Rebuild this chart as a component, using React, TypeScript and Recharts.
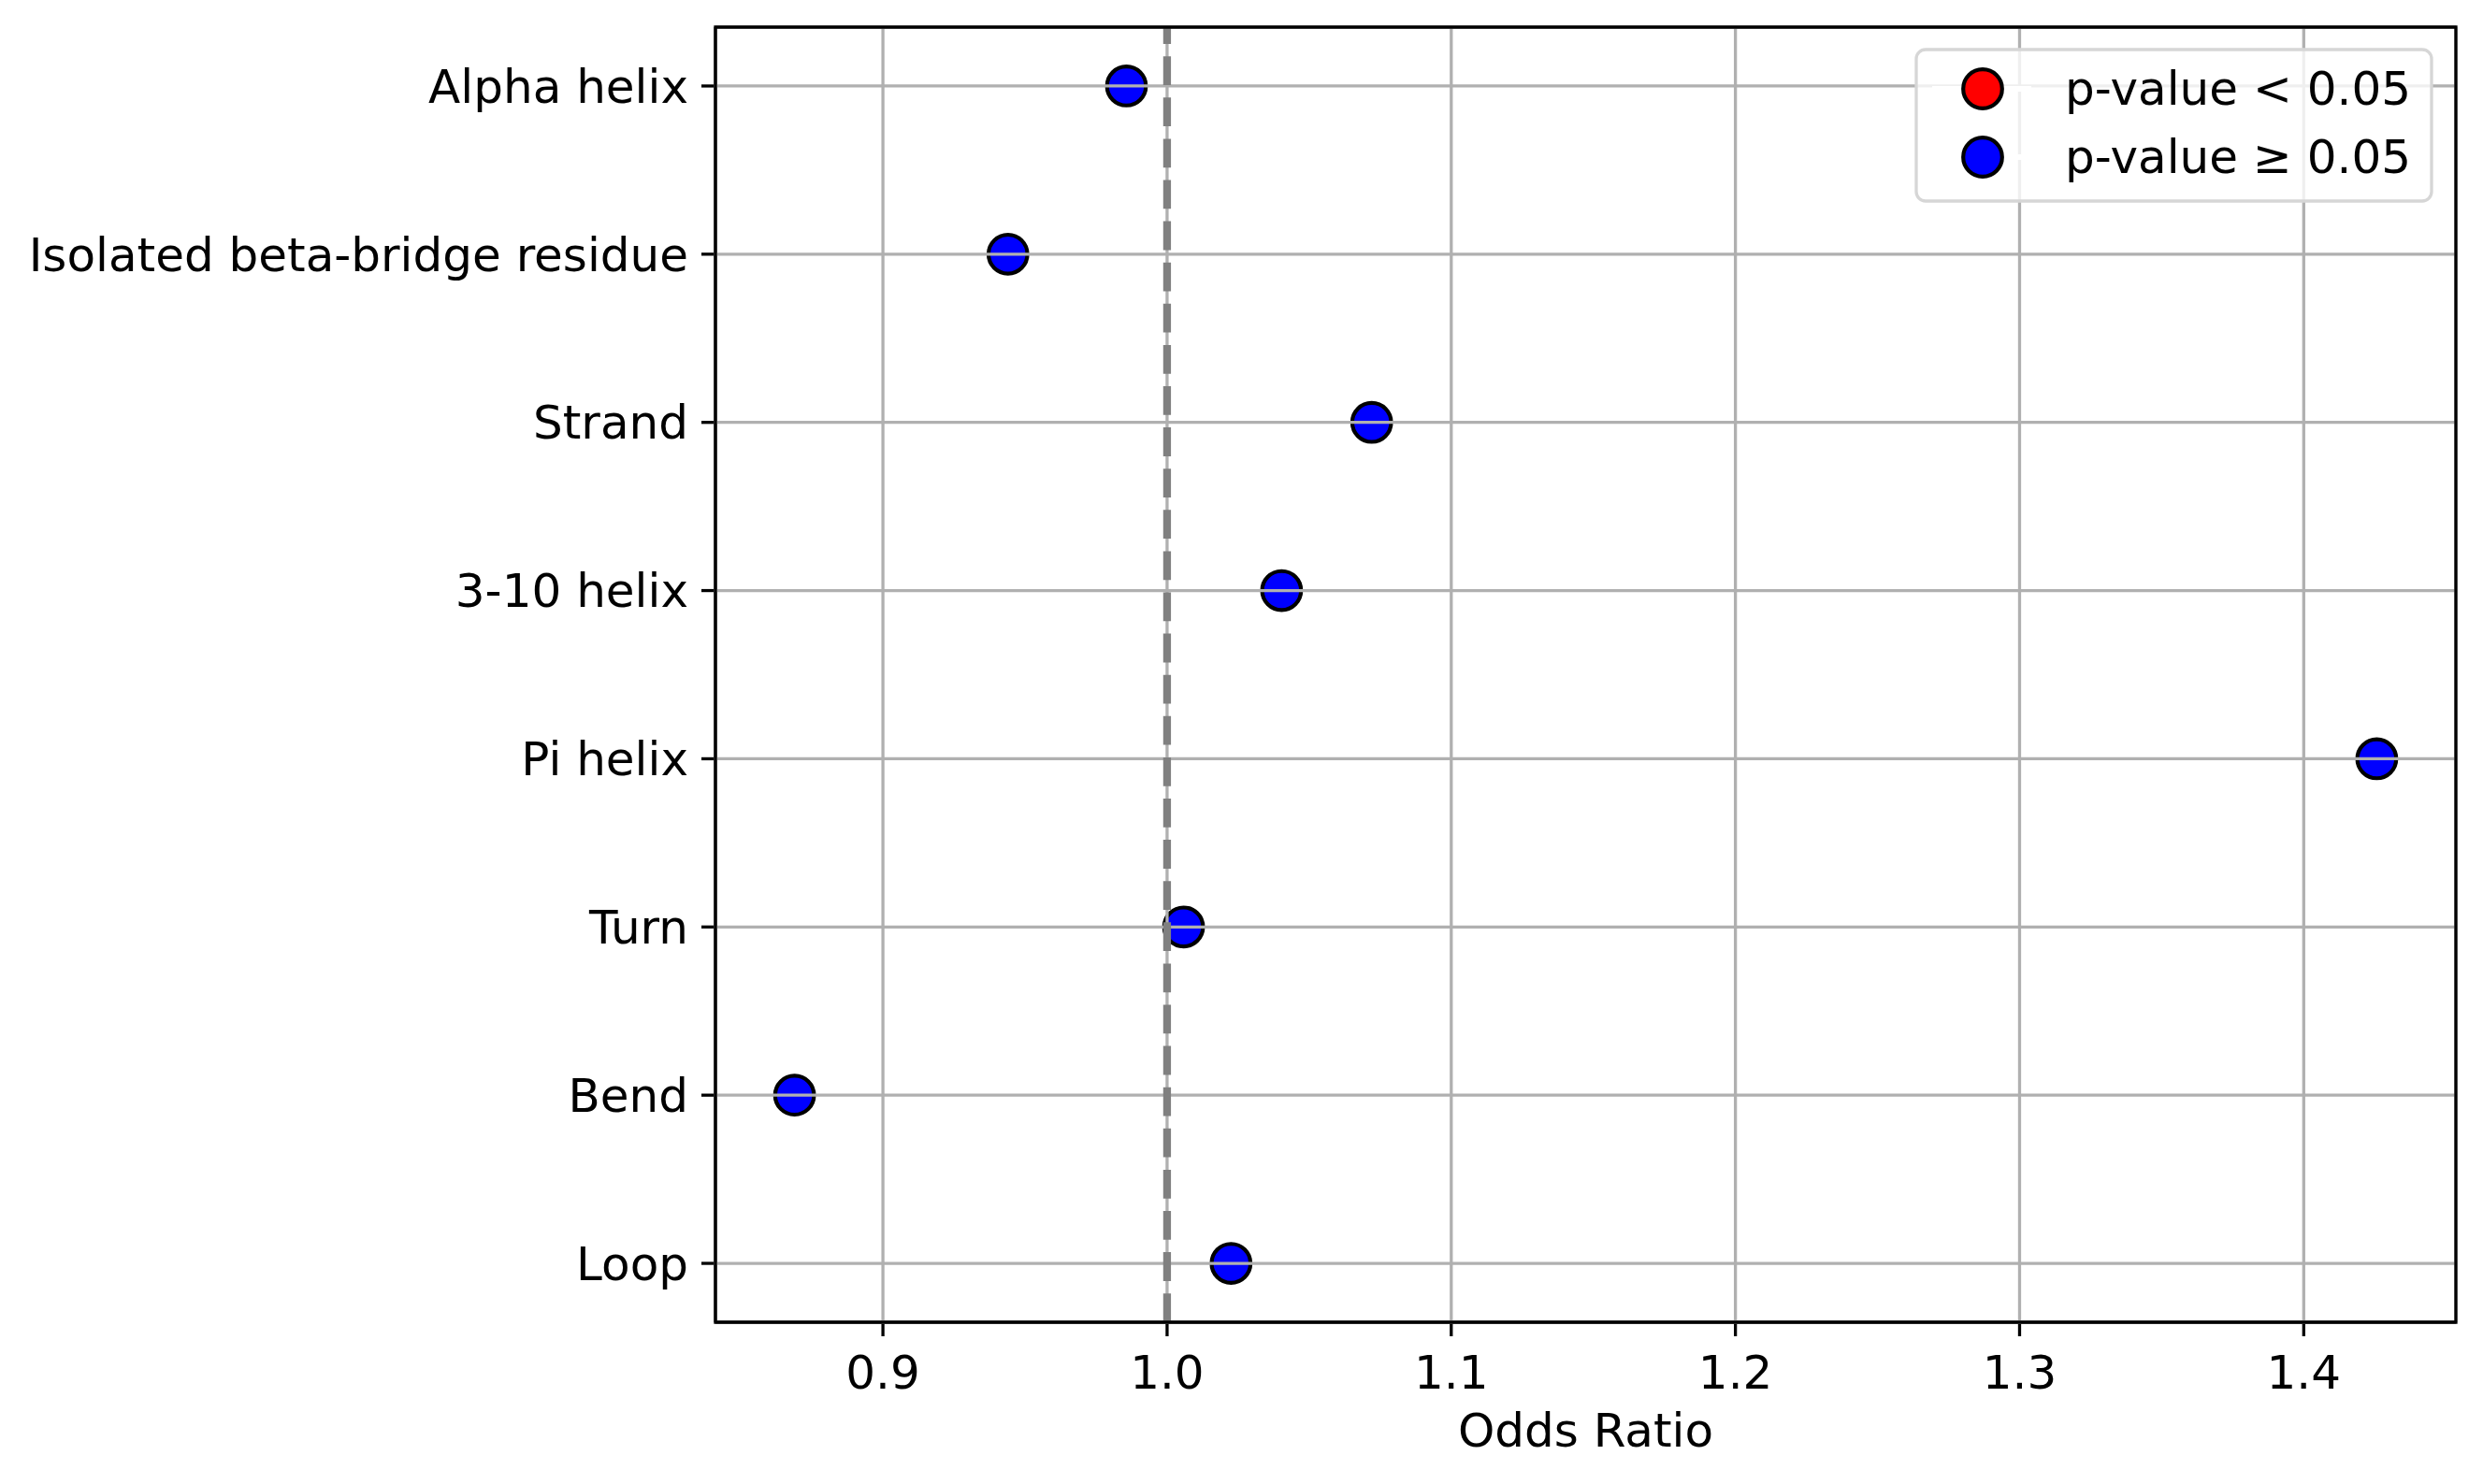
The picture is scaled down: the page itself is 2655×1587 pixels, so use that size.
import React from "react";
import {
  ScatterChart,
  Scatter,
  XAxis,
  YAxis,
  CartesianGrid,
  ReferenceLine,
  ReferenceArea,
  Legend,
  Label,
} from "recharts";

const categories = [
  "Alpha helix",
  "Isolated beta-bridge residue",
  "Strand",
  "3-10 helix",
  "Pi helix",
  "Turn",
  "Bend",
  "Loop",
];
const oddsRatios = [0.9857, 0.944, 1.072, 1.0403, 1.4257, 1.0058, 0.8689, 1.0225];
const significant = [false, false, false, false, false, false, false, false];
const xTicks = [0.9, 1.0, 1.1, 1.2, 1.3, 1.4];
const legendLabels = ["p-value < 0.05", "p-value \u2265 0.05"];
const legendColors = ["#ff0000", "#0000ff"];

const FONT = "'DejaVu Sans', sans-serif";

const points = categories.map((name, i) => ({
  name,
  x: oddsRatios[i],
  y: i,
  sig: significant[i],
}));
const sigPoints = points.filter((p) => p.sig);
const nonSigPoints = points.filter((p) => !p.sig);

const dot = (color: string) => (props: any) => (
  <circle
    cx={props.cx}
    cy={props.cy}
    r={20.8}
    fill={color}
    stroke="#000"
    strokeWidth={4.2}
  />
);

const LegendBox = () => (
  <svg width={560} height={170} style={{ overflow: "visible", display: "block" }}>
    <rect
      x={0}
      y={0}
      width={551}
      height={162}
      rx={10}
      ry={10}
      fill="rgba(255,255,255,0.8)"
      stroke="#d6d6d6"
      strokeWidth={3.3}
    />
    {legendLabels.map((label, i) => {
      const cy = 42 + i * 73;
      return (
        <g key={label}>
          <line x1={17} x2={123} y1={cy} y2={cy} stroke="#fff" strokeWidth={6} />
          <circle cx={71} cy={cy} r={20.8} fill={legendColors[i]} stroke="#000" strokeWidth={4.2} />
          <text x={159} y={cy + 17} fontSize={50} fontFamily={FONT} fill="#000">
            {label}
          </text>
        </g>
      );
    })}
  </svg>
);

export default function App() {
  return (
    <div style={{ width: 2640, height: 1560, fontFamily: FONT }}>
      <ScatterChart
        width={2640}
        height={1560}
        margin={{ top: 21, right: 22, bottom: 12, left: 0 }}
      >
        <XAxis
          type="number"
          dataKey="x"
          domain={[0.84106, 1.45354]}
          allowDataOverflow
          ticks={xTicks}
          tickFormatter={(v: number) => v.toFixed(1)}
          height={142}
          tickSize={15}
          tickMargin={20}
          axisLine={{ stroke: "#000", strokeWidth: 3.3 }}
          tickLine={{ stroke: "#000", strokeWidth: 3.3 }}
          tick={{ fill: "#000", fontSize: 50, fontFamily: FONT }}
        >
          <Label
            value="Odds Ratio"
            position="insideBottom"
            offset={9}
            style={{ fill: "#000", fontSize: 50, fontFamily: FONT }}
          />
        </XAxis>
        <YAxis
          type="number"
          dataKey="y"
          domain={[-0.35, 7.35]}
          reversed
          allowDataOverflow
          ticks={categories.map((_, i) => i)}
          interval={0}
          tickFormatter={(v: number) => categories[v]}
          width={757}
          tickSize={15}
          tickMargin={14}
          axisLine={{ stroke: "#000", strokeWidth: 3.3 }}
          tickLine={{ stroke: "#000", strokeWidth: 3.3 }}
          tick={{ fill: "#000", fontSize: 50, fontFamily: FONT }}
        />
        <Scatter
          name={legendLabels[0]}
          data={sigPoints}
          fill={legendColors[0]}
          shape={dot(legendColors[0])}
          isAnimationActive={false}
        />
        <Scatter
          name={legendLabels[1]}
          data={nonSigPoints}
          fill={legendColors[1]}
          shape={dot(legendColors[1])}
          isAnimationActive={false}
        />
        <CartesianGrid
          stroke="#b0b0b0"
          strokeWidth={3.3}
          zIndex={650}
        />
        <ReferenceLine
          x={1}
          stroke="#808080"
          strokeWidth={8.3}
          strokeDasharray="30.8 13.3"
          zIndex={700}
        />
        <ReferenceArea
          x1={0.84106}
          x2={1.45354}
          y1={-0.35}
          y2={7.35}
          fill="none"
          fillOpacity={0}
          stroke="#000"
          strokeWidth={3.3}
          ifOverflow="visible"
          zIndex={800}
        />
        <Legend
          layout="horizontal"
          verticalAlign="middle"
          align="center"
          content={() => <LegendBox />}
          wrapperStyle={{ left: 2041, top: 45, width: 560, height: 170 }}
        />
      </ScatterChart>
    </div>
  );
}
